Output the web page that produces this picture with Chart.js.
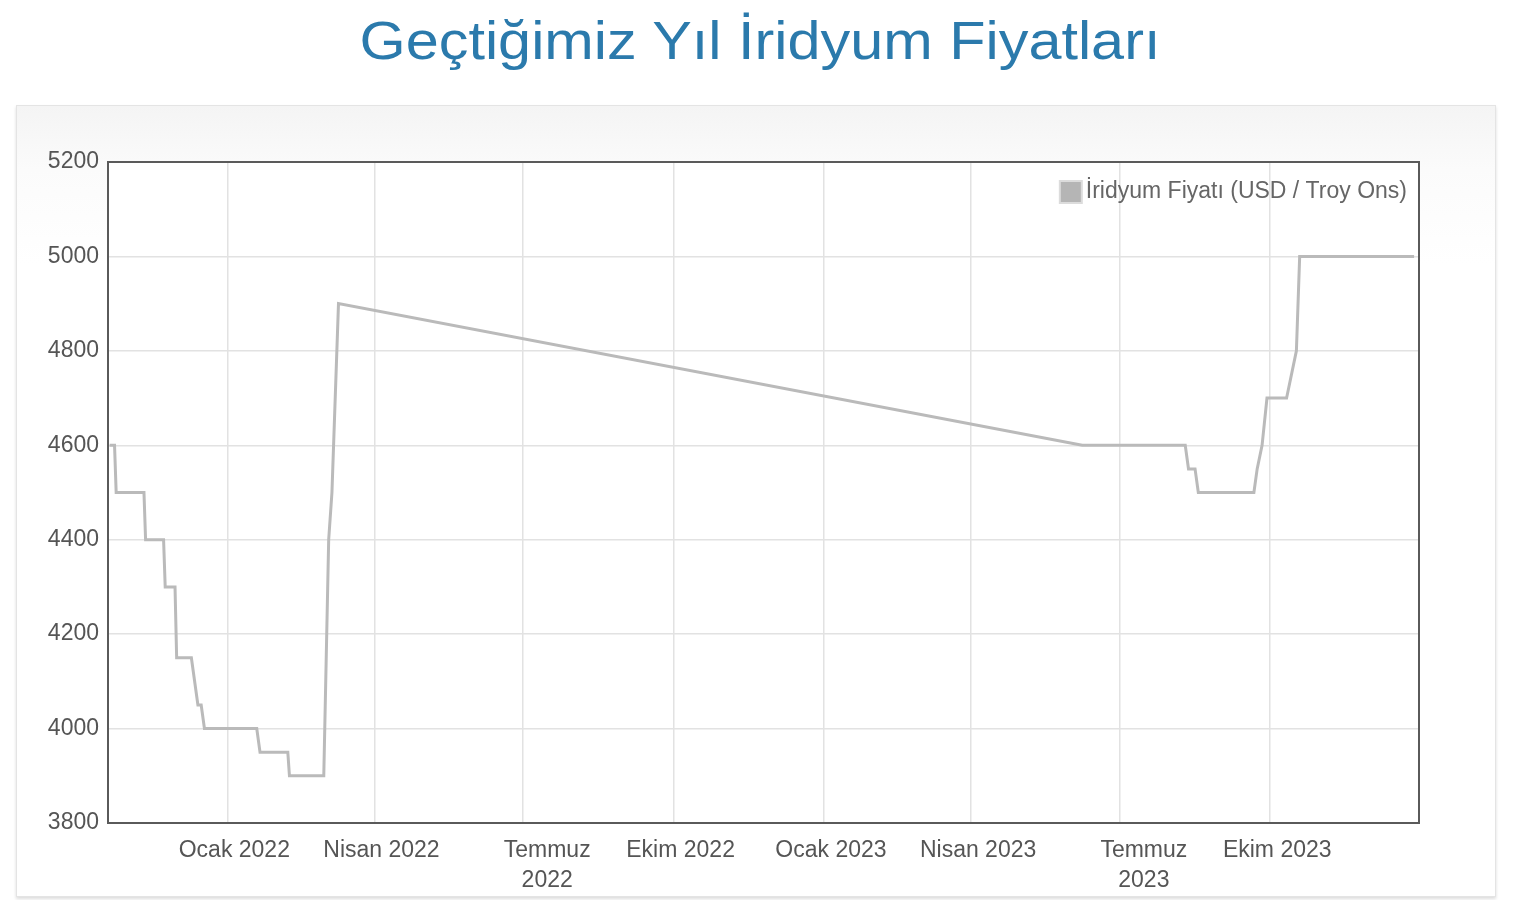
<!DOCTYPE html>
<html>
<head>
<meta charset="utf-8">
<script src="https://cdn.jsdelivr.net/npm/chart.js@4.4.1/dist/chart.umd.min.js"></script>
<style>
  body { margin: 0; background: #fff; font-family: "Liberation Sans", Arial, sans-serif; overflow: hidden; }
  h1 {
    position: absolute; left: 0; width: 1519px; top: 0; margin: 0;
    text-align: center; font-weight: normal; font-size: 54px; line-height: 80px;
    color: #2b7aac; transform: scaleX(1.1); transform-origin: 755px 0;
  }
  #box {
    position: absolute; left: 16px; top: 105px; width: 1480px; height: 792px;
    box-sizing: border-box; border: 1px solid #e4e4e4;
    background: linear-gradient(#f4f4f4, #fbfbfb 8%, #ffffff 20%);
    box-shadow: 0 2px 3px #ddd;
  }
  #box canvas { display: block; }
</style>
</head>
<body>
<h1>Geçtiğimiz Yıl İridyum Fiyatları</h1>
<div id="box"><canvas id="chart"></canvas></div>
<script>
// price points (USD / troy ounce)
var dates = [
  '2021-10-21', '2021-10-24', '2021-10-25', '2021-11-11', '2021-11-12',
  '2021-11-23', '2021-11-24', '2021-11-30', '2021-12-01', '2021-12-10',
  '2021-12-14', '2021-12-16', '2021-12-18', '2022-01-19', '2022-01-21',
  '2022-02-07', '2022-02-08', '2022-03-01', '2022-03-04', '2022-03-06',
  '2022-03-10', '2023-06-08', '2023-08-10', '2023-08-12', '2023-08-16',
  '2023-08-18', '2023-09-21', '2023-09-23', '2023-09-26', '2023-09-29',
  '2023-10-11', '2023-10-17', '2023-10-19', '2023-12-28'
];
var prices = [
  4600, 4600, 4500, 4500, 4400,
  4400, 4300, 4300, 4150, 4150,
  4050, 4050, 4000, 4000, 3950,
  3950, 3900, 3900, 4400, 4500,
  4900, 4600, 4600, 4550, 4550,
  4500, 4500, 4550, 4600, 4700,
  4700, 4800, 5000, 5000
];
var tickDates = ['2022-01-01', '2022-04-01', '2022-07-01', '2022-10-01',
                 '2023-01-01', '2023-04-01', '2023-07-01', '2023-10-01'];
var tickLabels = ['Ocak 2022', 'Nisan 2022', ['Temmuz', '2022'], 'Ekim 2022',
                  'Ocak 2023', 'Nisan 2023', ['Temmuz', '2023'], 'Ekim 2023'];
var seriesLabel = 'İridyum Fiyatı (USD / Troy Ons)';

// days counted from 1 Jan 2022
function dayOf(d) {
  return (Date.parse(d + 'T00:00:00Z') - Date.parse('2022-01-01T00:00:00Z')) / 864e5;
}

var points = [];
for (var i = 0; i < dates.length; i++) {
  points.push({ x: dayOf(dates[i]), y: prices[i] });
}

var fontFamily = '"Liberation Sans", Arial, sans-serif';
var tickFont = { family: fontFamily, size: 23, lineHeight: 1.3 };

// white plot area, dark frame, legend inside the top right corner
var frame = {
  id: 'frame',
  beforeDraw: function(chart) {
    var a = chart.chartArea, c = chart.ctx;
    c.save();
    c.fillStyle = '#fff';
    c.fillRect(a.left, a.top, a.right - a.left, a.bottom - a.top);
    c.restore();
    // two-line labels sit a bit further right in the original
    chart.scales.x.getLabelItems().forEach(function(it) {
      if (Array.isArray(it.label)) it.options.translation[0] += 17;
    });
  },
  afterDatasetsDraw: function(chart) {
    var a = chart.chartArea, c = chart.ctx;
    var ds = chart.data.datasets[0];
    c.save();
    c.strokeStyle = '#5a5a5a';
    c.lineWidth = 2;
    c.strokeRect(a.left, a.top, a.right - a.left, a.bottom - a.top);

    c.font = '23px ' + fontFamily;
    c.textBaseline = 'middle';
    var tw = c.measureText(ds.label).width;
    var tx = a.right - 12 - tw;
    var cy = a.top + 30;
    c.fillStyle = '#b5b5b5';
    c.fillRect(tx - 26, cy - 11, 22, 22);
    c.strokeStyle = '#dcdcdc';
    c.lineWidth = 2;
    c.strokeRect(tx - 26, cy - 11, 22, 22);
    c.fillStyle = '#666';
    c.fillText(ds.label, tx, cy);
    c.restore();
  }
};

var canvas = document.getElementById('chart');
canvas.width = 1478;
canvas.height = 790;

new Chart(canvas.getContext('2d'), {
  type: 'line',
  data: {
    datasets: [{
      label: seriesLabel,
      data: points,
      borderColor: '#bababa',
      backgroundColor: '#b5b5b5',
      borderWidth: 3,
      pointRadius: 0,
      tension: 0,
      fill: false
    }]
  },
  options: {
    responsive: false,
    animation: false,
    layout: { padding: { top: 56, right: 76, left: 0, bottom: 0 } },
    plugins: {
      tooltip: { enabled: false },
      legend: { display: false }
    },
    scales: {
      x: {
        type: 'linear',
        min: dayOf('2021-10-20'),
        max: dayOf('2023-12-31'),
        afterBuildTicks: function(scale) {
          scale.ticks = tickDates.map(function(d) { return { value: dayOf(d) }; });
        },
        afterFit: function(scale) { scale.height = 73; },
        ticks: {
          autoSkip: false, maxRotation: 0, labelOffset: 7, padding: 13,
          color: '#555', font: tickFont,
          callback: function(v, idx) { return tickLabels[idx]; }
        },
        grid: { color: '#e2e2e2', lineWidth: 1.5, drawTicks: false },
        border: { display: false }
      },
      y: {
        min: 3800, max: 5200,
        afterFit: function(scale) { scale.width = 91; },
        ticks: {
          stepSize: 200, padding: 9, color: '#555', font: tickFont,
          callback: function(v) { return String(v); }
        },
        grid: { color: '#e2e2e2', lineWidth: 1.5, drawTicks: false },
        border: { display: false }
      }
    }
  },
  plugins: [frame]
});
</script>
</body>
</html>
